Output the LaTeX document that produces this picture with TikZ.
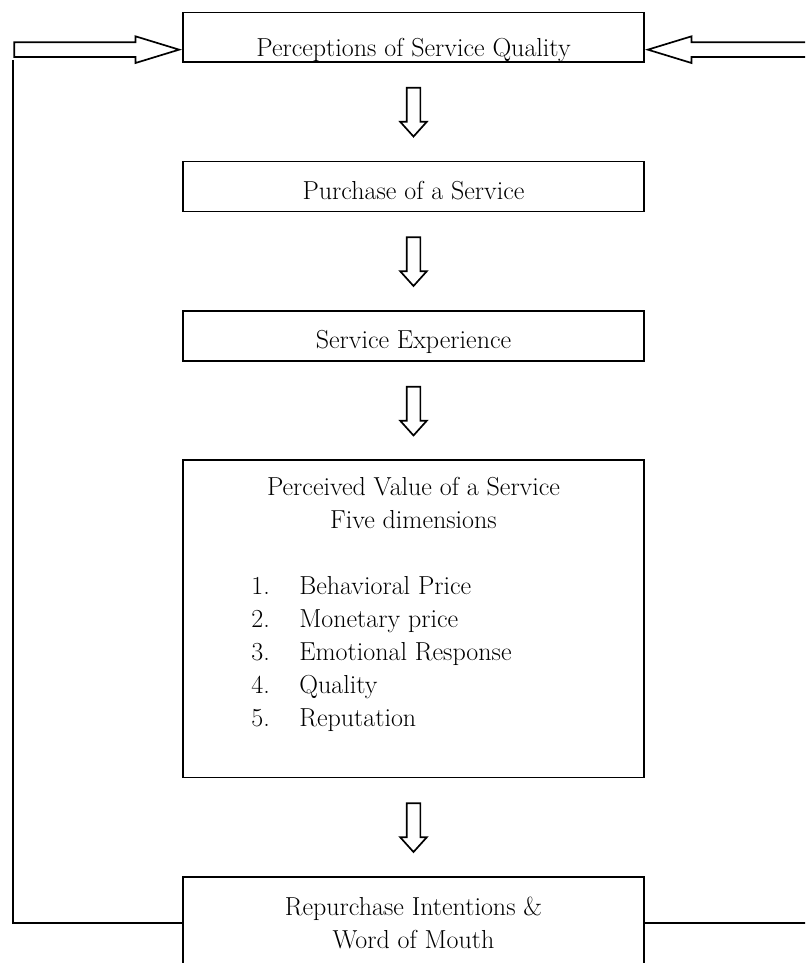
\documentclass[tikz,border=0pt]{standalone}
\usetikzlibrary{shapes.arrows, positioning, calc}

\begin{document}
\begin{tikzpicture}[
    x=0.025cm, y=-0.025cm,
    node distance=2.44cm,
    box/.style={rectangle, draw, line width=1.3pt, inner sep=0pt, minimum width=11.525cm, align=center, font=\fontsize{18.5}{23.4}\selectfont},
    lowtext/.style={text height=0.95cm, text depth=0.3cm},
    txt/.style={inner sep=0pt, font=\fontsize{18.5}{23.4}\selectfont},
    downarrow/.style={single arrow, draw, line width=1.2pt, rotate=-90, anchor=tail, inner xsep=0pt, inner ysep=0.15cm, minimum height=1.22cm, minimum width=0.625cm, single arrow head extend=0.16cm, single arrow tip angle=84},
    sidearrow/.style={single arrow, draw, line width=1.2pt, anchor=tip, inner xsep=0pt, inner ysep=0.1625cm, minimum width=0.625cm, single arrow head extend=0.15cm, single arrow tip angle=34},
    backline/.style={line width=1.3pt}
]
\clip (0,0) rectangle (805,963);

\node[box, text height=1.11cm, text depth=0.125cm] (perc) at (413.5,37.25) {Perceptions of Service Quality};
\node[box, lowtext, below=of perc] (purch) {Purchase of a Service};
\node[box, lowtext, below=of purch] (exper) {Service Experience};
\node[box, minimum height=7.925cm, below=of exper] (value) {};
\node[box, minimum height=2.3cm, below=of value] (repur) {Repurchase Intentions \&\\Word of Mouth};

\node[txt, align=center, anchor=base] (valuetitle) at ([yshift=-1.725cm]value.north) {Perceived Value of a Service\\Five dimensions};
\node[txt, align=left, anchor=base west] (valuelist) at ([xshift=1.725cm, yshift=-6.675cm]value.north west) {\makebox[1.2cm][l]{1.}Behavioral Price\\
\makebox[1.2cm][l]{2.}Monetary price\\
\makebox[1.2cm][l]{3.}Emotional Response\\
\makebox[1.2cm][l]{4.}Quality\\
\makebox[1.2cm][l]{5.}Reputation};

\node[downarrow] (a1) at ([yshift=-0.6cm]perc.south) {};
\node[downarrow] (a2) at ([yshift=-0.6cm]purch.south) {};
\node[downarrow] (a3) at ([yshift=-0.6cm]exper.south) {};
\node[downarrow] (a4) at ([yshift=-0.6cm]value.south) {};

\node[sidearrow, minimum height=4.12cm] (inleft) at ([yshift=-0.31cm]perc.west) {};
\node[sidearrow, minimum height=4.6cm, rotate=180] (inright) at ([yshift=-0.31cm]perc.east) {};

\coordinate (backtop) at (13,60);
\coordinate (backright) at (830,0);
\draw[backline] (repur.west) -| (backtop);
\draw[backline] (repur.east) -- (repur.east -| backright);

\end{tikzpicture}
\end{document}
